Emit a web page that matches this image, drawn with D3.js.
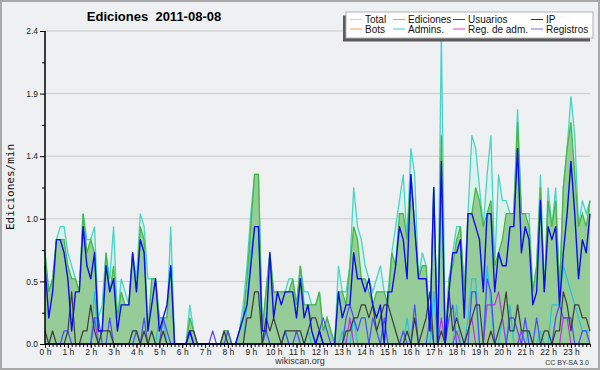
<!DOCTYPE html>
<meta charset="utf-8">
<html>
<head>
<style>
  body { margin: 0; background: #fff; }
  svg { display: block; font-family: "Liberation Sans", Arial, sans-serif; }
</style>
</head>
<script src="https://d3js.org/d3.v7.min.js"></script>
<body>
<div id="vis"></div>
<script>
  // edits per minute, one value every 10 minutes (0:00 .. 23:50)
  var total = [
    0.7,0.4,0.5,0.8,0.9,0.9,0.7,0.6,0.5,0.4,1.0,0.8,
    0.8,0.9,0.2,0.3,0.7,0.5,0.9,0.2,0.5,0.4,0.3,0.7,
    0.5,1.0,0.9,0.5,0.5,0.5,0.2,0.2,0.2,0.9,0,0,
    0,0,0.3,0.1,0,0,0,0,0,0,0,0.1,
    0.1,0,0,0.1,0.3,0.6,1.0,1.3,1.3,0.1,0.4,0.7,
    0.4,0.4,0.4,0.4,0.5,0.5,0.3,0.6,0.4,0.4,0.3,0.3,
    0.4,0.1,0.2,0.1,0,0.6,0.4,0.4,0.6,1.2,0.9,0.8,
    0.6,0.5,0.4,0.5,0.6,0.4,0.4,0.7,0.9,1.1,1.3,0.8,
    1.5,1.3,0.5,0.7,0.6,0.1,1.2,0,2.4,0,0.5,0.7,
    0.9,0.9,0.4,1.0,1.6,1.5,1.2,0.9,1.3,1.6,0.6,1.3,
    1.1,1.1,1.0,1.0,1.8,1.0,1.0,1.0,0.4,0.6,1.3,0.4,
    1.2,0.9,1.2,0.4,1.2,1.5,1.9,1.6,0.9,1.1,1.0,1.1];

  var ediciones = [
    0.7,0.4,0.5,0.8,0.8,0.8,0.6,0.5,0.5,0.4,1.0,0.7,
    0.8,0.7,0.1,0.1,0.7,0.4,0.6,0.2,0.4,0.3,0.3,0.7,
    0.4,0.9,0.8,0.1,0.5,0.5,0.2,0.2,0.2,0.6,0,0,
    0,0,0.2,0.1,0,0,0,0,0,0,0,0.1,
    0.1,0,0,0.1,0.2,0.5,0.9,1.3,1.3,0.1,0.4,0.7,
    0.4,0.4,0.4,0.4,0.4,0.5,0.3,0.6,0.3,0.3,0.3,0.3,
    0.4,0.1,0.2,0.1,0,0.4,0.4,0.3,0.6,0.9,0.8,0.5,
    0.5,0.4,0.3,0.4,0.4,0.4,0.3,0.7,0.6,1.0,1.0,0.8,
    1.3,0.9,0.5,0.6,0.6,0.1,1.2,0,1.6,0,0.5,0.6,
    0.8,0.9,0.4,1.0,1.0,1.2,1.1,0.9,1.0,1.1,0.6,0.7,
    0.8,1.0,1.0,1.0,1.7,1.0,1.0,0.9,0.4,0.6,1.2,0.4,
    1.1,0.9,1.1,0.4,1.2,1.5,1.7,1.3,0.9,1.0,0.9,1.1];

  var usuarios = [
    0.6,0.2,0.4,0.8,0.8,0.7,0.5,0.1,0.4,0.4,0.9,0.6,
    0.5,0.7,0.1,0.1,0.6,0.4,0.5,0.1,0.3,0.3,0.3,0.7,
    0.4,0.8,0.7,0.1,0.3,0.5,0.1,0.2,0.3,0.6,0,0,
    0,0,0.1,0,0,0,0,0,0,0,0,0,
    0,0,0,0.1,0.2,0.3,0.6,0.9,0.9,0.1,0.1,0.7,
    0.2,0.4,0.3,0.4,0.4,0.4,0.2,0.5,0.2,0.3,0.1,0,
    0.1,0,0,0,0,0.4,0.2,0.3,0.3,0.7,0.5,0.5,
    0.4,0.5,0.3,0.2,0.3,0,0.4,0.4,0.6,0.9,0.8,0.5,
    1.3,0.9,0.5,0.5,0.5,0.1,1.2,0,1.4,0,0.4,0.7,
    0.7,0.8,0.2,1.0,1.0,0.9,0.8,0.4,1.0,1.0,0.4,0.7,
    0.6,0.6,0.9,0.9,1.5,0.7,0.9,0.8,0.3,0.4,1.1,0.4,
    0.9,0.8,0.9,0.3,0.7,1.0,1.4,1.0,0.5,0.8,0.7,1.0];

  var ip = [
    0.1,0,0.1,0,0,0,0.1,0.4,0,0,0.1,0.1,
    0.3,0.1,0,0.1,0.1,0.1,0,0,0,0,0,0.1,
    0.1,0,0.1,0,0.1,0,0,0.1,0,0,0,0,
    0,0,0.1,0.1,0,0,0,0,0,0,0,0.1,
    0,0,0,0,0,0.2,0.2,0.4,0.4,0,0.2,0.1,
    0.2,0.1,0,0.1,0.1,0.1,0.1,0.1,0,0.1,0.2,0.2,
    0.1,0,0,0,0,0,0,0.1,0.1,0.2,0.2,0.3,
    0.3,0.2,0.3,0.1,0.2,0.3,0.3,0.2,0.1,0,0,0.1,
    0,0.2,0,0.1,0.2,0.4,0,0,0.1,0,0.4,0.1,
    0.2,0.1,0,0.1,0.2,0.3,0.3,0,0,0.1,0,0.1,
    0.2,0.4,0.1,0.1,0.3,0.1,0.1,0.1,0,0,0,0.1,
    0.1,0,0.1,0.1,0.4,0.3,0.1,0.3,0.3,0.2,0.2,0.1];

  var bots = [
    0,0,0,0,0,0,0,0,0,0,0,0,
    0,0,0,0,0,0,0,0,0,0,0,0,
    0,0,0,0,0,0,0,0,0,0,0,0,
    0,0,0,0,0,0,0,0,0,0,0,0,
    0,0,0,0,0,0,0,0,0,0,0,0,
    0,0,0,0,0,0,0,0,0,0,0,0,
    0,0,0,0,0,0,0,0,0,0,0,0,
    0,0,0,0,0,0,0,0,0,0,0,0,
    0,0,0,0,0,0,0,0,0,0,0,0,
    0,0,0,0,0,0,0,0,0,0.1,0,0,
    0,0,0,0,0,0,0,0,0,0,0,0,
    0,0,0,0,0,0,0,0,0,0,0,0];

  var admins = [
    0,0,0,0,0,0,0,0,0,0,0,0,
    0,0.4,0,0,0,0,0,0,0,0,0,0.1,
    0.1,0,0,0,0,0,0.2,0.2,0,0,0,0,
    0,0,0,0,0,0,0,0,0,0,0,0,
    0,0,0,0,0,0.3,0.7,0.9,0.9,0,0,0,
    0,0,0,0.1,0,0,0,0,0,0.1,0,0,
    0,0,0,0,0,0,0.1,0,0,0.2,0,0,
    0,0,0,0,0,0,0,0,0,0,0,0.2,
    0,0,0,0,0,0,0.4,0,0,0,0,0,
    0.3,0,0,0.2,0.5,0.5,0,0,0.6,0.3,0,0,
    0.2,0,0.3,0,0,0.1,0,0.1,0,0,0.1,0,
    0,0.3,0.3,0.3,0.6,0.5,0.4,0.3,0.2,0.1,0.1,0.1];

  var regAdm = [
    0,0,0,0,0,0,0,0,0,0,0,0,
    0,0.2,0,0,0,0,0,0,0,0,0,0,
    0,0,0,0,0,0,0,0,0,0,0,0,
    0,0,0,0,0,0,0,0,0,0,0,0,
    0,0,0,0,0,0,0,0,0,0,0,0,
    0,0,0,0,0,0,0,0,0,0,0,0,
    0,0,0,0,0,0,0,0,0.2,0,0,0,
    0,0,0,0,0,0,0,0,0,0,0,0,
    0,0,0,0,0,0,0,0,0.2,0,0,0,
    0.1,0,0,0.1,0.2,0,0,0,0.3,0.3,0.3,0.4,
    0.2,0,0,0,0,0.1,0,0,0,0,0,0,
    0,0,0,0,0.2,0.2,0,0,0,0,0,0];

  var registros = [
    0,0,0,0,0,0.1,0.1,0,0,0,0,0,
    0,0.2,0.2,0,0,0.2,0,0,0,0,0,0,
    0.1,0,0.2,0,0,0,0,0.2,0.1,0,0,0,
    0,0,0.1,0,0,0,0,0,0.1,0,0,0,
    0.1,0,0,0,0,0,0,0,0,0,0.1,0,
    0,0,0,0.1,0,0,0.1,0,0,0,0,0,
    0.1,0.2,0.1,0,0,0,0,0.2,0.3,0.2,0.1,0.2,
    0.2,0,0.2,0.1,0,0.2,0,0,0,0,0.1,0,
    0,0.3,0,0,0,0.2,0,0,0,0,0.2,0.3,
    0,0,0,0,0.4,0.4,0,0,0.5,0.4,0,0,
    0,0,0.2,0.2,0.1,0,0.2,0,0,0.2,0,0,
    0,0,0.2,0.3,0.2,0.2,0.2,0,0,0.1,0.1,0];

  var hourLabels = ["0 h","1 h","2 h","3 h","4 h","5 h","6 h","7 h","8 h","9 h","10 h","11 h",
    "12 h","13 h","14 h","15 h","16 h","17 h","18 h","19 h","20 h","21 h","22 h","23 h"];
  var yTickValues = [0, 0.48, 0.96, 1.44, 1.92, 2.4];
  var yTickLabels = ["0.0", "0.5", "1.0", "1.4", "1.9", "2.4"];
  var yMinorValues = [0.24, 0.72, 1.2, 1.68, 2.16];

  var legendNames = [["Total", "Ediciones", "Usuarios", "IP"],
    ["Bots", "Admins.", "Reg. de adm.", "Registros"]];
  var legendColors = [["#a6e3db", "#86c986", "#3434d8", "#333333"],
    ["#ff9a3c", "#3cc6df", "#c843d8", "#7272e6"]];

  var width = 600, height = 370;
  var plotLeft = 45, plotRight = 590, plotTop = 31, plotBottom = 344;

  var x = d3.scaleLinear().domain([0, total.length - 1]).range([plotLeft, plotRight]);
  var y = d3.scaleLinear().domain([0, 2.4]).range([plotBottom, plotTop]);

  var svg = d3.select("#vis").append("svg")
    .attr("width", width)
    .attr("height", height);

  svg.append("rect")
    .attr("x", 1).attr("y", 1)
    .attr("width", width - 2).attr("height", height - 2)
    .style("fill", "#eff0f2")
    .style("stroke", "#a9a9a9")
    .style("stroke-width", 2);

  // grid
  svg.append("g").selectAll("line")
    .data(yTickValues.slice(1))
    .enter().append("line")
    .attr("x1", plotLeft).attr("x2", plotRight)
    .attr("y1", function(d) { return y(d); })
    .attr("y2", function(d) { return y(d); })
    .style("stroke", "#cbcbcb")
    .style("stroke-width", 1);

  var area = function(values) {
    return d3.area()
      .x(function(d, i) { return x(i); })
      .y0(y(0))
      .y1(function(d) { return y(d); })(values);
  };
  var line = function(values) {
    return d3.line()
      .x(function(d, i) { return x(i); })
      .y(function(d) { return y(d); })(values);
  };

  svg.append("path").attr("d", area(total))
    .style("fill", "#dbf2ec");
  svg.append("path").attr("d", line(total))
    .style("fill", "none").style("stroke", "#48d4c6").style("stroke-width", 1.3);

  svg.append("path").attr("d", area(ediciones))
    .style("fill", "#8ec88e").style("fill-opacity", 0.9);
  svg.append("path").attr("d", line(ediciones))
    .style("fill", "none").style("stroke", "#44b844").style("stroke-width", 1.3);

  var series = [
    {values: admins, color: "#22c4dc", w: 1.2},
    {values: bots, color: "#ff9a30", w: 1.2},
    {values: regAdm, color: "#bb33dd", w: 1.2},
    {values: registros, color: "#4a4aff", w: 1.2},
    {values: ip, color: "#3c3c3c", w: 1.2},
    {values: usuarios, color: "#0c0cec", w: 1.4}
  ];

  series.forEach(function(s) {
    svg.append("path").attr("d", line(s.values))
      .style("fill", "none")
      .style("stroke", s.color)
      .style("stroke-width", s.w)
      .style("stroke-linejoin", "round");
  });

  // axes
  var yAxis = svg.append("g")
    .attr("transform", "translate(" + plotLeft + ",0)")
    .call(d3.axisLeft(y).tickValues(yTickValues).tickSize(5).tickPadding(2)
      .tickFormat(function(d, i) { return yTickLabels[i]; }));
  yAxis.select(".domain").remove();
  yAxis.selectAll("text").style("font-size", "8.5px").style("fill", "#222")
    .style("font-family", "'Liberation Sans', Arial, sans-serif");

  var yMinor = svg.append("g")
    .attr("transform", "translate(" + plotLeft + ",0)")
    .call(d3.axisLeft(y).tickValues(yMinorValues).tickSize(3).tickFormat(""));
  yMinor.select(".domain").remove();

  var xMinor = svg.append("g")
    .attr("transform", "translate(0," + plotBottom + ")")
    .call(d3.axisBottom(x).tickValues(d3.range(total.length)).tickSize(3).tickFormat(""));
  xMinor.select(".domain").remove();

  var xAxis = svg.append("g")
    .attr("transform", "translate(0," + plotBottom + ")")
    .call(d3.axisBottom(x).tickValues(hourLabels.map(function(d, i) { return i * 6; }))
      .tickSize(4).tickPadding(1)
      .tickFormat(function(d, i) { return hourLabels[i]; }));
  xAxis.select(".domain").remove();
  xAxis.selectAll("text").style("font-size", "8.5px").style("fill", "#222")
    .style("font-family", "'Liberation Sans', Arial, sans-serif");

  svg.selectAll(".tick line").style("stroke", "#000");

  svg.append("line")
    .attr("x1", plotLeft).attr("x2", plotLeft).attr("y1", plotTop).attr("y2", plotBottom)
    .style("stroke", "#000").style("stroke-width", 1.5);
  svg.append("line")
    .attr("x1", plotLeft).attr("x2", plotRight).attr("y1", plotBottom).attr("y2", plotBottom)
    .style("stroke", "#000").style("stroke-width", 1.5);

  // legend
  svg.append("rect")
    .attr("x", 343).attr("y", 15.5).attr("width", 247).attr("height", 26)
    .style("fill", "#5a5a5a");
  svg.append("rect")
    .attr("x", 346).attr("y", 12).attr("width", 247).attr("height", 26)
    .style("fill", "#fff").style("stroke", "#b0b0b0");

  var colX = [350, 393, 453, 531];
  legendNames.forEach(function(row, r) {
    row.forEach(function(name, c) {
      svg.append("line")
        .attr("x1", colX[c]).attr("x2", colX[c] + 12)
        .attr("y1", 19.5 + r * 9.5).attr("y2", 19.5 + r * 9.5)
        .style("stroke", legendColors[r][c]).style("stroke-width", 1);
      svg.append("text")
        .attr("x", colX[c] + 15).attr("y", 23 + r * 9.5)
        .style("font-size", "10px").style("fill", "#111")
        .text(name);
    });
  });

  // titles
  svg.append("text")
    .attr("x", 154).attr("y", 21)
    .style("text-anchor", "middle")
    .style("font-size", "13px").style("font-weight", "bold")
    .style("white-space", "pre")
    .text("Ediciones  2011-08-08");

  svg.append("text")
    .attr("transform", "translate(14,187) rotate(-90)")
    .style("text-anchor", "middle")
    .style("font-family", "'DejaVu Sans Mono', monospace")
    .style("font-size", "11px").style("fill", "#111")
    .text("Ediciones/min");

  svg.append("text")
    .attr("x", 300).attr("y", 364)
    .style("text-anchor", "middle")
    .style("font-size", "9px").style("fill", "#333")
    .text("wikiscan.org");

  svg.append("text")
    .attr("x", 589).attr("y", 365)
    .style("text-anchor", "end")
    .style("font-size", "7px").style("fill", "#333")
    .text("CC BY-SA 3.0");
</script>
</body>
</html>
